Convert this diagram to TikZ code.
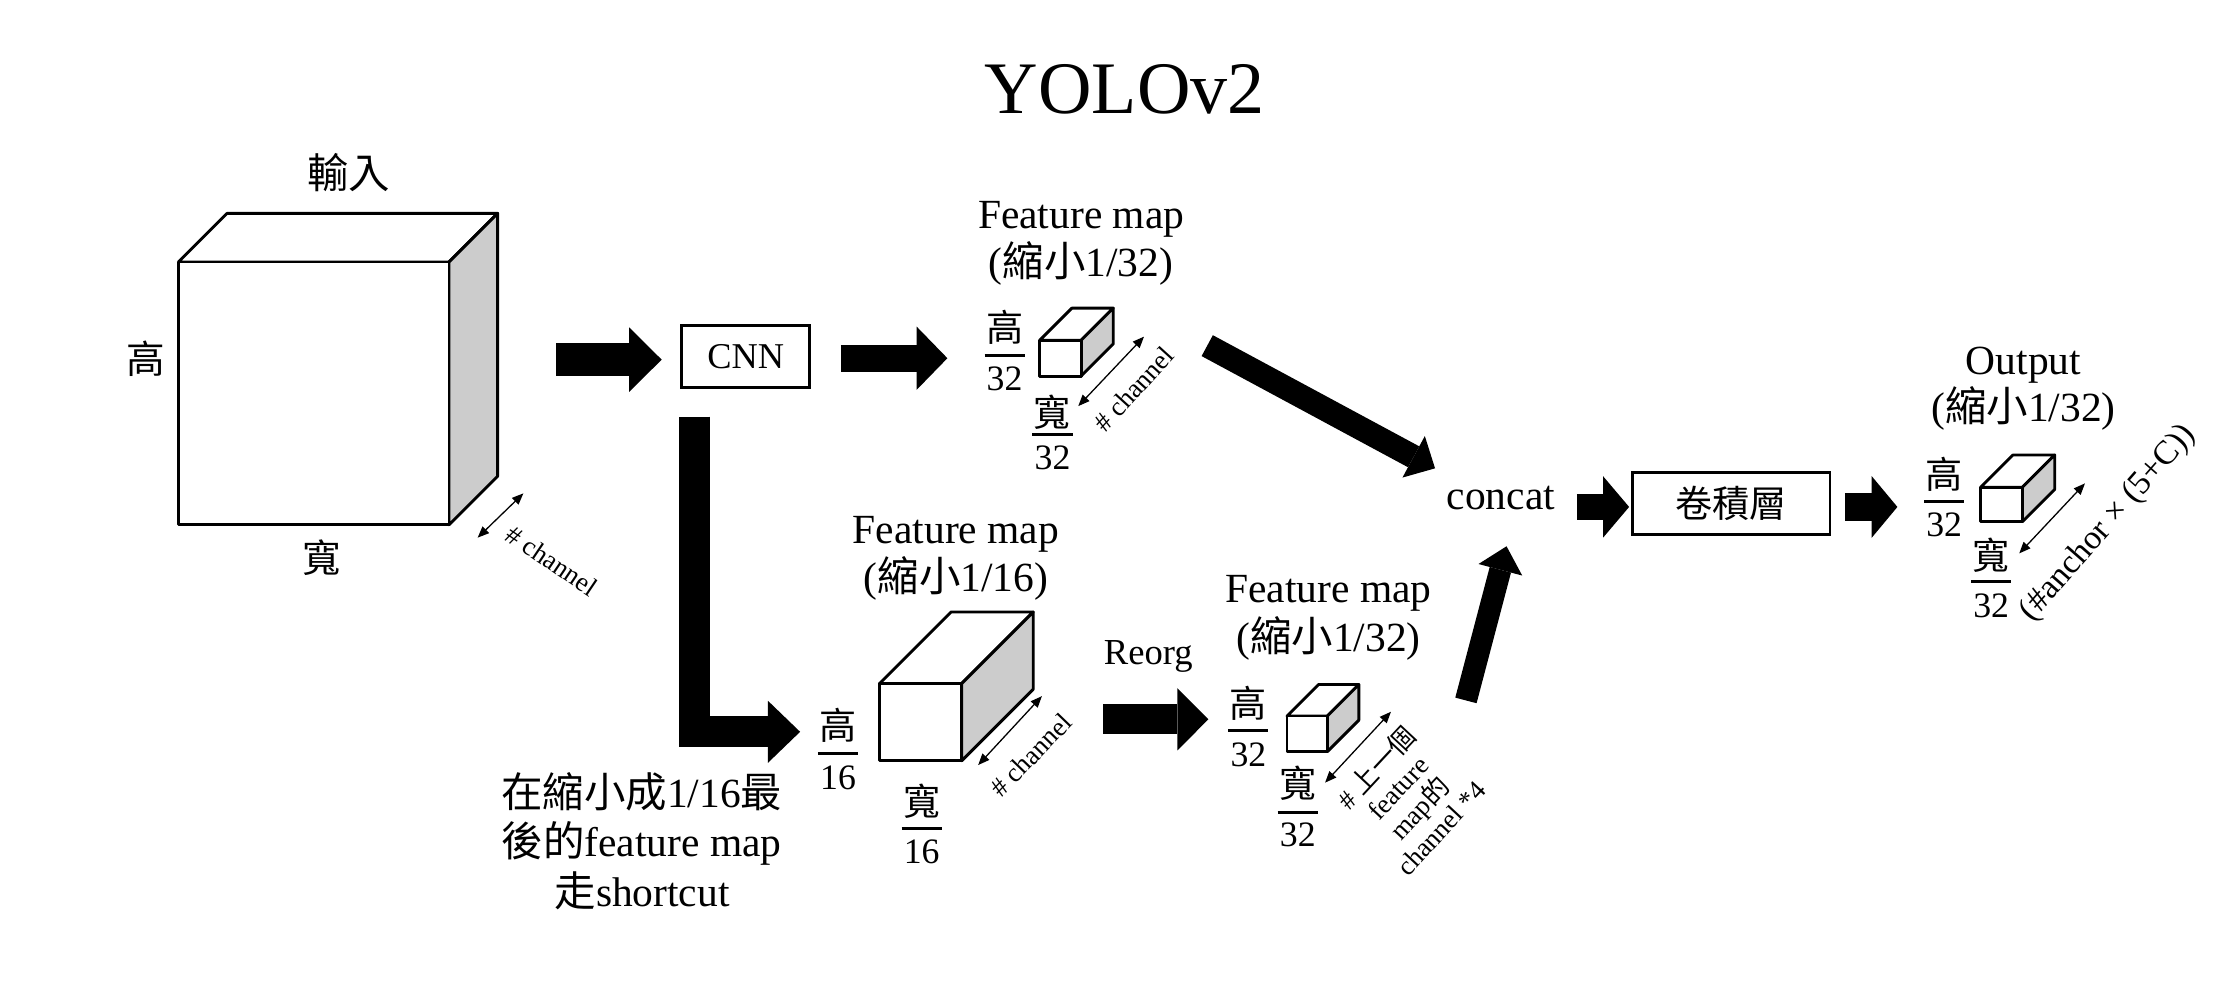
\documentclass[tikz,border=0pt]{standalone}
\usepackage{fontspec}
\setmainfont{Liberation Serif}
\newfontfamily\cjk{Noto Sans CJK TC}
\usetikzlibrary{arrows.meta}
\definecolor{sidegray}{HTML}{CCCCCC}
\newcommand\fsz[1]{\fontsize{#1}{#1}\selectfont}
\newcommand\boxcube[6]{%
  \filldraw[cubeline,fill=white] (#2,#3) -- (#2+#6,#3-#6) -- (#2+#4+#6,#3-#6) -- (#2+#4,#3) -- cycle;
  \filldraw[cubeline,fill=sidegray] (#2+#4,#3) -- (#2+#4+#6,#3-#6) -- (#2+#4+#6,#3+#5-#6) -- (#2+#4,#3+#5) -- cycle;
  \filldraw[cubeline,fill=white] (#2,#3) rectangle (#2+#4,#3+#5);
  \coordinate (#1) at (#2+#4/2,#3+#5/2);}
\newcommand\frlabel[7]{%
  \node[fracnum] (#1n) at (#2,#3) {#6};
  \draw[fracrule] (#2-14,#4) -- (#2+14,#4);
  \node[fracden] (#1d) at (#2,#5) {#7};}
\tikzset{
  cubeline/.style={line width=1pt, line join=round},
  txt/.style={inner sep=0pt, outer sep=0pt},
  lbl/.style={txt, font=\fsz{14.5}},
  cjklbl/.style={txt, font=\cjk\fsz{13.5}},
  fracnum/.style={txt, font=\cjk\fsz{13}},
  fracden/.style={txt, font=\fsz{12.5}},
  fracrule/.style={line width=0.9pt},
  chlbl/.style={txt, font=\fsz{9.4}},
  blk/.style n args={3}{line width=#1pt, line cap=butt, line join=miter,
    -{Triangle[length=#2pt,width=#3pt,line width=0pt]}},
  thinarr/.style={line width=0.45pt,
    {Triangle[length=4pt,width=3.2pt]}-{Triangle[length=4pt,width=3.2pt]}},
  boxnode/.style={draw, line width=1pt, inner sep=0pt},
}
\begin{document}
\begin{tikzpicture}[x=0.5pt,y=-0.5pt]
\useasboundingbox[fill=white] (0,0) rectangle (1560.1,694.4);

% title
\node[txt, anchor=base, font=\fsz{25.9}] (title) at (786.6,79.2) {YOLOv2};

% input cube
\boxcube{incube}{124.8}{183.2}{189.2}{183.8}{34}
\node[txt, font=\cjk\fsz{14.5}] (inlbl) at (244,120.5) {輸入};
\node[cjklbl] (inh) at (102,251) {高};
\node[cjklbl] (inw) at (225,389.7) {寬};
\coordinate (inc1) at (334,376); \coordinate (inc2) at (366,345);
\draw[thinarr] (inc1) -- (inc2);
\node[chlbl, rotate=-34] (inch) at (386,392) {\# channel};

% CNN
\node[boxnode, minimum width=44.85pt, minimum height=21.5pt, font=\fsz{12.7}] (cnn) at (521.5,249.25) {CNN};
\coordinate (a1s) at (388.8,251.5); \coordinate (a1e) at (462.7,251.5);
\draw[blk={11.4}{11.35}{22.5}] (a1s) -- (a1e);
\coordinate (a2s) at (588,250.5); \coordinate (a2e) at (662.5,250.5);
\draw[blk={9.3}{10.75}{22.1}] (a2s) -- (a2e);

% top feature map
\node[lbl, anchor=base] (fmt1) at (756,159.7) {Feature map};
\node[lbl, anchor=base] (fmt2) at (756,193.3) {({\cjk 縮小}1/32)};
\boxcube{topcube}{727}{238}{29}{25}{22.5}
\frlabel{tfh}{702.5}{229}{248.7}{265}{高}{32}
\frlabel{tfw}{736}{288.5}{304}{320}{寬}{32}
\coordinate (tc1) at (754,284); \coordinate (tc2) at (800,235.4);
\draw[thinarr] (tc1) -- (tc2);
\node[chlbl, rotate=47.7] (tch) at (793,272) {\# channel};

% shortcut
\coordinate (scs) at (485.5,291.4); \coordinate (sce) at (559.5,511.75);
\draw[blk={10.75}{11.25}{21.7}] (scs) |- (sce);
\node[lbl, anchor=base] (cap1) at (448.7,565) {{\cjk 在縮小成}1/16{\cjk 最}};
\node[lbl, anchor=base] (cap2) at (448.7,598.8) {{\cjk 後的}feature map};
\node[lbl, anchor=base] (cap3) at (449,633.8) {{\cjk 走}shortcut};

% middle feature map 1/16
\node[lbl, anchor=base] (fmm1) at (668.5,380) {Feature map};
\node[lbl, anchor=base] (fmm2) at (668.5,413.3) {({\cjk 縮小}1/16)};
\boxcube{midcube}{615}{478}{57.5}{54}{50}
\frlabel{mfh}{586}{507}{527}{544}{高}{16}
\frlabel{mfw}{644.5}{560}{579.5}{596}{寬}{16}
\coordinate (mc1) at (684,535); \coordinate (mc2) at (728.6,486.8);
\draw[thinarr] (mc1) -- (mc2);
\node[chlbl, rotate=46] (mch) at (721,528) {\# channel};

% reorg
\node[txt, anchor=base, font=\fsz{12.8}] (reorg) at (803,464.4) {Reorg};
\coordinate (ros) at (771.6,503); \coordinate (roe) at (845,503);
\draw[blk={10.5}{10.85}{21.8}] (ros) -- (roe);

% bottom-right feature map 1/32
\node[lbl, anchor=base] (fmb1) at (929,421.6) {Feature map};
\node[lbl, anchor=base] (fmb2) at (929,455.3) {({\cjk 縮小}1/32)};
\boxcube{brcube}{900}{500.7}{28.2}{24.9}{22}
\frlabel{bfh}{873}{492}{511}{528}{高}{32}
\frlabel{bfw}{907.5}{548}{568}{584}{寬}{32}
\coordinate (bc1) at (926.6,547.3); \coordinate (bc2) at (972.7,497.7);
\draw[thinarr] (bc1) -- (bc2);
\node[txt, rotate=47, align=center, font=\fontsize{9.4}{10.3}\selectfont] (bch) at (984.3,557.3)
  {\# {\cjk 上一個}\\feature\\map{\cjk 的}\\channel *4};

% concat
\node[lbl, anchor=base] (concat) at (1049.5,356) {concat};
\coordinate (d1s) at (844.2,241.7); \coordinate (d1e) at (1003.5,327.5);
\draw[blk={8.3}{8.5}{16.5}] (d1s) -- (d1e);
\coordinate (u1s) at (1025.1,489.8); \coordinate (u1e) at (1053.5,382);
\draw[blk={7.7}{8.5}{15.8}] (u1s) -- (u1e);

% conv layer
\node[boxnode, minimum width=69pt, minimum height=21.5pt, font=\cjk\fsz{13}] (conv) at (1210.7,352) {卷積層};
\coordinate (c1s) at (1102.6,354.5); \coordinate (c1e) at (1139.2,354.5);
\draw[blk={9}{9.1}{21.5}] (c1s) -- (c1e);
\coordinate (c2s) at (1290,354.5); \coordinate (c2e) at (1326.8,354.5);
\draw[blk={9.75}{9}{21.6}] (c2s) -- (c2e);

% output
\node[lbl, anchor=base] (out1) at (1415,262.2) {Output};
\node[lbl, anchor=base] (out2) at (1415,294.7) {({\cjk 縮小}1/32)};
\boxcube{outcube}{1385}{340.8}{29.2}{24}{22.6}
\frlabel{ofh}{1359.5}{332}{350.8}{367}{高}{32}
\frlabel{ofw}{1392.4}{388}{406.8}{423.4}{寬}{32}
\coordinate (oc1) at (1412,387); \coordinate (oc2) at (1458,338);
\draw[thinarr] (oc1) -- (oc2);
\node[txt, rotate=48.8, font=\fsz{11.8}] (och) at (1474.3,366) {(\#anchor × (5+C))};
\end{tikzpicture}
\end{document}
